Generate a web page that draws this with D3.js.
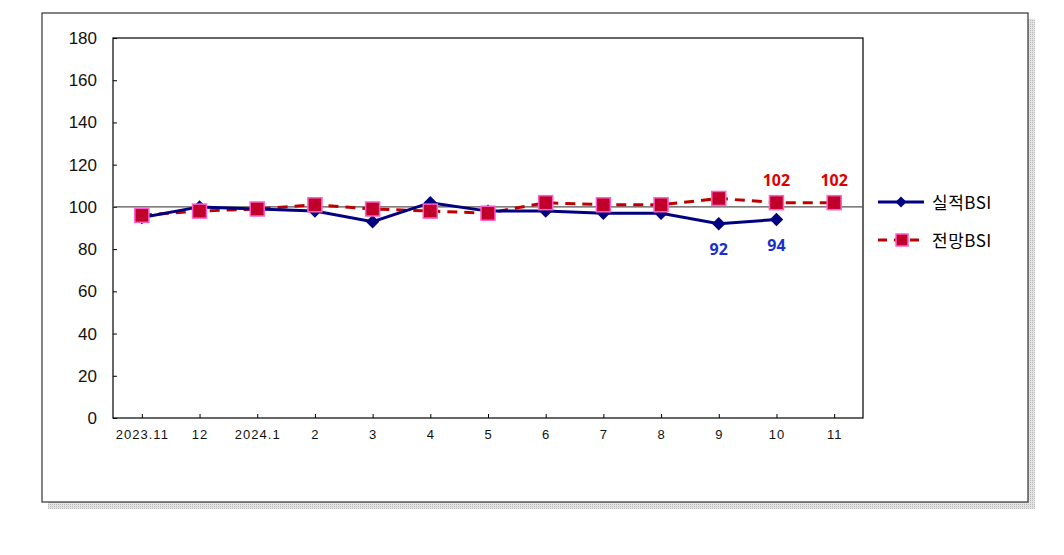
<!DOCTYPE html>
<html><head><meta charset="utf-8">
<script src="https://cdn.jsdelivr.net/npm/d3@7"></script>
<style>body{margin:0;background:#fff}svg{display:block}</style>
</head><body>
<svg id="c" width="1064" height="555"></svg>
<script>
const categories = ["2023.11","12","2024.1","2","3","4","5","6","7","8","9","10","11"];
const actual = [95,100,99,98,93,102,98,98,97,97,92,94,null];
const forecast = [96,98,99,101,99,98,97,102,101,101,104,102,102];
const yTicks = [0,20,40,60,80,100,120,140,160,180];
const seriesNames = ["실적BSI","전망BSI"];
const actualLabels = [{i:10,v:92},{i:11,v:94}];
const forecastLabels = [{i:11,v:102},{i:12,v:102}];

const svg = d3.select("#c");
const defs = svg.append("defs");
const pat = defs.append("pattern").attr("id","dots").attr("width",2).attr("height",2).attr("patternUnits","userSpaceOnUse");
pat.append("rect").attr("width",2).attr("height",2).attr("fill","#e4e4e4");
pat.append("rect").attr("width",1).attr("height",1).attr("fill","#b8b8b8");
svg.append("rect").attr("x",48).attr("y",19).attr("width",987).attr("height",490).attr("fill","url(#dots)");
svg.append("rect").attr("x",42).attr("y",13).attr("width",986).attr("height",489).attr("fill","#fff").attr("stroke","#333").attr("stroke-width",1.2);

const L=113, R=863, T=38, B=418;
const x = d3.scalePoint().domain(categories).range([L,R]).padding(0.5);
const y = d3.scaleLinear().domain([0,180]).range([B,T]);

svg.append("rect").attr("x",L).attr("y",T).attr("width",R-L).attr("height",B-T).attr("fill","none").attr("stroke","#000").attr("stroke-width",1.2);

const ya = svg.append("g").attr("transform",`translate(${L},0)`)
  .call(d3.axisLeft(y).tickValues(yTicks).tickSize(-4).tickPadding(16));
ya.select(".domain").remove();
ya.selectAll("line").attr("stroke","#000");
ya.selectAll("text").attr("font-family","Liberation Sans, Arial, sans-serif").attr("font-size",17).attr("fill","#111");

const xa = svg.append("g").attr("transform",`translate(0,${B})`)
  .call(d3.axisBottom(x).tickSize(-4).tickPadding(12));
xa.select(".domain").remove();
xa.selectAll("line").attr("stroke","#000");
xa.selectAll("text").attr("font-family","Liberation Sans, Arial, sans-serif").attr("font-size",13).attr("letter-spacing","1px").attr("fill","#111");

svg.append("line").attr("x1",L).attr("x2",R).attr("y1",y(100)).attr("y2",y(100)).attr("stroke","#555").attr("stroke-width",1.3);

const lineF = d3.line().x((d,i)=>x(categories[i])).y(d=>y(d));
svg.append("path").datum(forecast).attr("d",lineF).attr("fill","none").attr("stroke","#c00000").attr("stroke-width",3).attr("stroke-dasharray","10,7");
const lineA = d3.line().defined(d=>d!=null).x((d,i)=>x(categories[i])).y(d=>y(d));
svg.append("path").datum(actual).attr("d",lineA).attr("fill","none").attr("stroke","#000080").attr("stroke-width",3);

svg.selectAll(".dm").data(actual.map((v,i)=>({v,i})).filter(d=>d.v!=null)).enter().append("path")
  .attr("transform",d=>`translate(${x(categories[d.i])},${y(d.v)}) rotate(45)`)
  .attr("d",d3.symbol().type(d3.symbolSquare).size(90)).attr("fill","#000080");
svg.selectAll(".sq").data(forecast.map((v,i)=>({v,i}))).enter().append("rect")
  .attr("x",d=>x(categories[d.i])-7).attr("y",d=>y(d.v)-7).attr("width",14).attr("height",14)
  .attr("fill","#c0002a").attr("stroke","#ff5fc8").attr("stroke-width",1.5);

svg.selectAll(".la").data(actualLabels).enter().append("text")
  .attr("x",d=>x(categories[d.i])).attr("y",d=>y(d.v)+31).attr("text-anchor","middle")
  .attr("font-family","Noto Sans, sans-serif").attr("font-weight","bold").attr("font-size",16).attr("fill","#1c2fcc").text(d=>d.v);
svg.selectAll(".lf").data(forecastLabels).enter().append("text")
  .attr("x",d=>x(categories[d.i])).attr("y",d=>y(d.v)-17).attr("text-anchor","middle")
  .attr("font-family","Noto Sans, sans-serif").attr("font-weight","bold").attr("font-size",16).attr("fill","#e00000").text(d=>d.v);

const lg = svg.append("g");
lg.append("line").attr("x1",878).attr("x2",924).attr("y1",202).attr("y2",202).attr("stroke","#000080").attr("stroke-width",3);
lg.append("path").attr("transform","translate(901,202) rotate(45)").attr("d",d3.symbol().type(d3.symbolSquare).size(60)).attr("fill","#000080");
lg.append("line").attr("x1",878).attr("x2",926).attr("y1",240).attr("y2",240).attr("stroke","#c00000").attr("stroke-width",3).attr("stroke-dasharray","9,7");
lg.append("rect").attr("x",896).attr("y",234).attr("width",12).attr("height",12).attr("fill","#c0002a").attr("stroke","#ff5fc8").attr("stroke-width",1.5);
lg.selectAll(".lt").data(seriesNames).enter().append("text")
  .attr("x",932).attr("y",(d,i)=>209+i*38)
  .attr("font-family","Noto Sans CJK KR, sans-serif").attr("font-size",17).attr("letter-spacing","0.5px").attr("fill","#000").text(d=>d);
</script>
</body></html>
